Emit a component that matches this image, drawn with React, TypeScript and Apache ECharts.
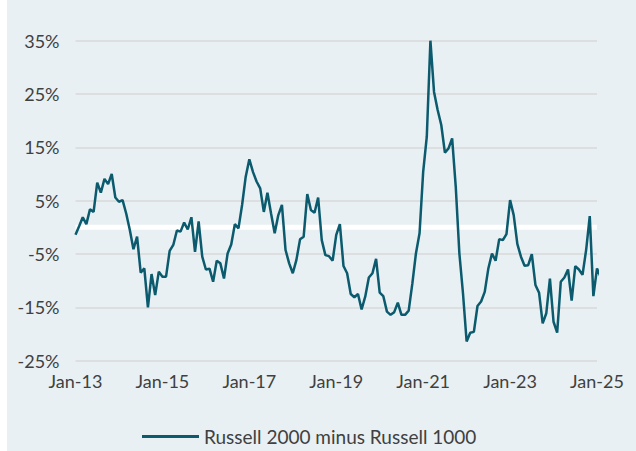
import React, { useEffect, useRef } from "react";
import * as echarts from "echarts";

const tickLabels = ["Jan-13", "Jan-15", "Jan-17", "Jan-19", "Jan-21", "Jan-23", "Jan-25"];
const seriesName = "Russell 2000 minus Russell 1000";

// Monthly spread (%), starting Jan-13
const spread = [
  -1.4, 0.2, 1.9, 0.6, 3.4, 2.9, 8.4, 6.5, 9.1, 8.1, 10, 5.6,
  4.8, 5.1, 2.6, -0.5, -4.1, -1.75, -8.5, -7.7, -15, -8.75, -12.7, -8.3,
  -9.25, -9.25, -4.4, -3.3, -0.6, -0.8, 0.9, -0.4, 1.9, -4.6, 1.1, -5.5,
  -7.9, -7.75, -10.2, -6.25, -6.75, -9.6, -4.9, -3.2, 0.6, -0.2, 4.2, 9.5,
  12.75, 10.4, 8.6, 7.3, 2.9, 6.5, 2.6, -1.1, 2.3, 4.2, -4.25, -6.75,
  -8.6, -6.1, -2.25, -1.75, 6.25, 3.25, 2.75, 5.6, -2.4, -5.2, -5.4, -6.25,
  -1.4, 0.6, -7.25, -8.6, -12.5, -13.1, -12.5, -15.4, -13, -9.4, -8.6, -5.9,
  -12.25, -12.9, -15.8, -16.4, -15.9, -14.1, -16.4, -16.4, -15.6, -10.6, -4.9, -1.1,
  10.4, 17, 35, 25.4, 22, 19.2, 14, 14.8, 16.7, 7.6, -4.9, -12.4,
  -21.4, -19.75, -19.6, -14.75, -13.9, -12.1, -7.7, -4.9, -6.25, -2.2, -2.4, -1.25,
  5.1, 2.3, -3.1, -5.5, -7.2, -7.1, -5, -10.8, -12.25, -18, -16.1, -9.6,
  -17.7, -19.75, -10.2, -9.4, -7.9, -13.75, -7.25, -7.9, -8.9, -4.25, 2.1, -12.9,
  -7.7, -9.3,
];

const zeroLine = [0, 0];

export default function App() {
  const ref = useRef<HTMLDivElement>(null);
  useEffect(() => {
    document.body.style.overflow = "hidden";
    const chart = echarts.init(ref.current!, undefined, { renderer: "svg" });
    const font = "Lato, 'Open Sans', sans-serif";
    chart.setOption({
      animation: false,
      backgroundColor: "#e8f0f3",
      grid: { left: 68.5, right: 39, top: 40.7, bottom: 90.3, containLabel: false },
      legend: {
        data: [seriesName],
        top: 422,
        left: 130,
        icon: "rect",
        itemWidth: 57,
        itemHeight: 3,
        itemGap: 5,
        textStyle: { color: "#404040", fontSize: 19, fontFamily: font },
      },
      xAxis: {
        type: "value",
        min: 0,
        max: 144,
        interval: 24,
        axisLine: { show: false },
        axisTick: { show: false },
        splitLine: { show: false },
        axisLabel: {
          margin: 11,
          color: "#404040",
          fontSize: 18,
          fontFamily: font,
          formatter: (v: number) => tickLabels[Math.round(v / 24)] ?? "",
        },
      },
      yAxis: {
        type: "value",
        min: -25,
        max: 35,
        interval: 10,
        axisLine: { show: false },
        axisTick: { show: false },
        splitLine: { lineStyle: { color: "#d9d9d9", width: 1.5 } },
        axisLabel: {
          margin: 16,
          color: "#404040",
          fontSize: 18,
          fontFamily: font,
          formatter: "{value}%",
        },
      },
      series: [
        {
          name: "zero",
          type: "line",
          data: zeroLine.map((v, i) => [i * 144, v]),
          symbol: "none",
          silent: true,
          z: 1,
          lineStyle: { color: "#ffffff", width: 5 },
        },
        {
          name: seriesName,
          type: "line",
          data: spread.map((v, i) => [i, v]),
          symbol: "none",
          clip: false,
          z: 3,
          itemStyle: { color: "#0b5a6e" },
          lineStyle: { color: "#0b5a6e", width: 2.5 },
        },
      ],
    });
    return () => chart.dispose();
  }, []);
  return (
    <div
      ref={ref}
      style={{ position: "absolute", left: 7, top: 0, width: 629, height: 451 }}
    />
  );
}
